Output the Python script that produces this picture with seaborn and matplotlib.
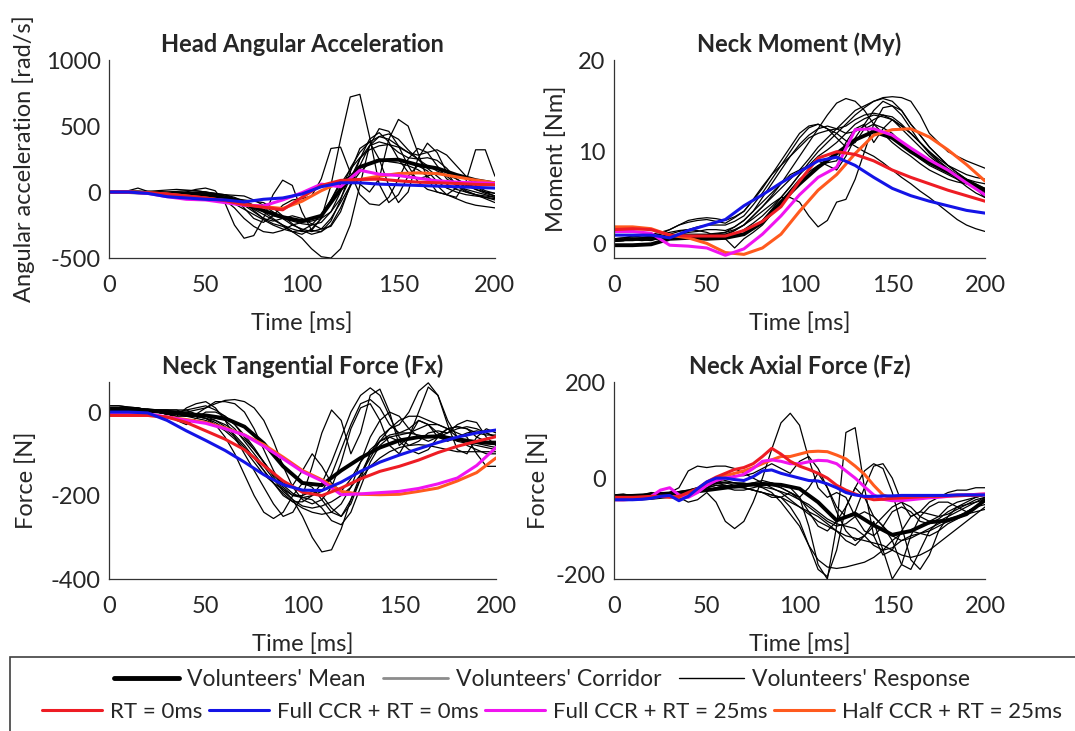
import numpy as np
import matplotlib
matplotlib.use("Agg")
import matplotlib.pyplot as plt
import seaborn as sns
from matplotlib.lines import Line2D
from matplotlib.patches import Rectangle

# time grids [ms]
T5 = np.arange(0, 201, 5)
T10 = np.arange(0, 201, 10)

# ---------------- Head angular acceleration [rad/s^2] ----------------
acc_mean = [0, 0, -5, -10, -15, -25, -50, -90, -140, -190, -220, -180, 20, 190, 240, 245, 205, 180, 130, 90, 65]
acc_rt0 = [0, 0, -5, -15, -30, -45, -65, -95, -115, -135, -40, 50, 88, 95, 98, 85, 75, 70, 65, 58, 55]
acc_full0 = [0, 0, -10, -35, -45, -55, -60, -75, -55, -45, -15, 40, 70, 70, 60, 55, 50, 45, 40, 35, 30]
acc_full25 = [0, 0, -10, -35, -55, -60, -80, -100, -105, -60, -5, 60, 40, 165, 135, 125, 105, 85, 75, 70, 65]
acc_half25 = [0, 0, -5, -15, -30, -45, -65, -95, -110, -125, -70, 10, 75, 95, 120, 140, 145, 140, 115, 90, 70]
acc_vol = [
    [0, 5, 10, 30, 5, 0, -5, -10, -10, -5, 0, -10, -30, -60, -90, -130, -170, -210, -250, -280, -300, -290, -200, 50, 400, 720, 740, 420, 60, -80, -20, 120, 200, 160, 80, 30, 0, -20, -30, -40, -50],
    [0, 0, -5, 0, 0, -5, -10, -15, -20, -20, -15, -20, -30, -50, -80, -140, -200, -240, -260, -300, -320, -280, -200, -60, 80, 120, 60, 0, 100, 400, 550, 500, 300, 100, 0, -20, 30, 60, 40, 0, -30],
    [0, 0, 0, -5, -5, 0, 0, 5, 10, 10, 0, -10, -20, -50, -120, -200, -230, -180, -100, -60, -50, -30, 100, 330, 340, 150, -20, -90, -100, -40, 100, 250, 330, 300, 200, 100, 50, 20, 0, -20, -40],
    [0, 0, 0, 0, -5, -10, -5, 0, 0, -5, -10, -15, -20, -25, -30, -60, -100, -150, -200, -250, -280, -300, -280, -200, -80, 50, 150, 220, 250, 230, 220, 200, 170, 120, 50, -20, -40, 80, 320, 320, 120],
    [0, 0, 0, 0, 0, -5, -10, -20, 0, 20, 30, 10, -80, -250, -350, -330, -200, -20, 90, 50, -150, -290, -300, -250, -120, 40, 200, 350, 420, 440, 400, 320, 250, 180, 120, 60, 20, 0, -20, -40, -60],
    [0, 0, 5, 0, -5, -5, -10, -10, -5, 0, -10, -15, -20, -40, -70, -100, -150, -200, -250, -300, -350, -430, -490, -500, -430, -250, 50, 350, 480, 460, 350, 200, 80, 20, 0, -20, -50, -80, -100, -110, -120],
    [0, 0, 0, 5, 0, -5, -10, -10, -15, -20, -25, -30, -40, -50, -60, -70, -80, -120, -180, -240, -290, -320, -300, -220, -60, 150, 330, 380, 250, 50, -80, 0, 250, 370, 300, 150, 50, 0, -20, -30, -40],
    [0, 0, 0, -5, -5, -10, -15, -20, -20, -25, -30, -40, -60, -90, -130, -170, -210, -250, -280, -300, -290, -250, -170, -60, 60, 170, 260, 320, 350, 360, 340, 300, 250, 200, 160, 130, 100, 60, 20, -10, -30],
    [0, 0, 0, 0, 5, 10, 15, 20, 15, 10, 0, -20, -60, -120, -200, -260, -300, -310, -290, -250, -230, -220, -200, -150, -50, 100, 250, 350, 380, 360, 300, 260, 250, 260, 240, 180, 100, 50, 20, 0, -10],
    [0, 0, 0, -5, -5, -10, -10, -15, -20, -25, -30, -35, -40, -50, -70, -100, -140, -180, -200, -220, -240, -250, -230, -150, 0, 180, 300, 380, 420, 400, 350, 300, 280, 300, 320, 280, 200, 120, 50, 10, -10],
    [0, 0, 0, 0, 0, -5, -5, -10, -10, -15, -20, -30, -40, -60, -100, -150, -200, -220, -200, -180, -200, -240, -280, -260, -150, 50, 250, 400, 450, 380, 250, 150, 100, 120, 150, 120, 60, 10, -20, -50, -80],
]

# ---------------- Neck moment My [Nm] ----------------
my_mean = [-0.2, -0.2, -0.1, 0.5, 0.6, 0.5, 0.6, 1.0, 2.3, 4.5, 6.5, 8.3, 9.8, 11.3, 12.2, 11.5, 10.0, 8.8, 7.8, 6.8, 5.8]
my_rt0 = [1.5, 1.6, 1.5, 0.9, 0.8, 0.8, 0.8, 1.4, 2.4, 4.0, 6.8, 9.3, 10.0, 9.7, 9.0, 8.0, 7.2, 6.5, 5.8, 5.2, 4.6]
my_full0 = [0.9, 0.9, 0.9, 0.6, 1.4, 2.0, 2.6, 4.1, 5.3, 6.6, 7.8, 9.0, 9.4, 8.5, 7.2, 6.0, 5.2, 4.6, 4.1, 3.6, 3.3]
my_full25 = [1.3, 1.3, 1.1, -0.2, -0.3, -0.5, -1.3, -0.6, 1.0, 3.0, 5.3, 7.2, 8.3, 12.4, 12.5, 11.8, 10.4, 9.1, 8.0, 6.6, 5.3]
my_half25 = [1.8, 1.8, 1.6, 0.9, 0.6, 0.0, -1.0, -1.2, -0.5, 1.0, 3.5, 5.8, 7.5, 9.8, 11.8, 12.4, 12.5, 11.6, 10.2, 8.6, 6.8]
my_vol = [
    [0.5, 0.6, 0.7, 0.8, 0.8, 1.0, 1.2, 1.4, 1.5, 1.8, 2.0, 2.0, 2.0, 2.4, 3.0, 4.2, 5.5, 7.0, 8.5, 10.0, 11.5, 12.6, 13.0, 12.5, 12.0, 11.2, 10.6, 10.0, 9.5, 8.8, 8.0, 7.2, 6.5, 5.7, 5.0, 4.2, 3.4, 2.6, 2.0, 1.6, 1.3],
    [0.3, 0.3, 0.4, 0.3, 0.4, 0.5, 0.5, 0.6, 0.8, 0.8, 0.9, 1.0, 1.0, 1.4, 2.0, 3.0, 4.0, 5.2, 6.5, 8.0, 9.5, 11.0, 12.5, 14.0, 15.3, 15.8, 15.5, 14.5, 13.0, 12.0, 11.0, 10.2, 9.5, 8.7, 8.0, 7.5, 7.0, 6.7, 6.5, 6.2, 6.0],
    [0.4, 0.4, 0.5, 0.5, 0.6, 0.6, 0.5, 0.5, 0.6, 0.6, 0.5, 0.5, 0.5, 1.0, 1.5, 2.2, 3.0, 4.0, 5.0, 6.2, 7.5, 8.8, 10.0, 11.0, 12.0, 13.0, 14.0, 14.8, 15.5, 15.9, 16.0, 15.9, 15.5, 14.0, 12.0, 11.0, 10.0, 9.5, 9.0, 8.6, 8.2],
    [0.5, 0.5, 0.6, 0.6, 0.7, 0.8, 0.9, 1.0, 1.0, 1.0, 1.0, 1.1, 1.2, 1.5, 2.0, 2.7, 3.5, 4.3, 5.0, 5.0, 4.5, 3.0, 1.8, 2.5, 4.5, 4.8, 7.0, 10.0, 13.0, 14.8, 15.0, 14.5, 13.0, 11.8, 10.5, 9.5, 8.5, 7.7, 7.0, 6.7, 6.5],
    [0.3, 0.4, 0.4, 0.5, 0.5, 0.6, 0.7, 0.8, 0.8, 0.9, 0.9, 0.9, 1.0, 1.0, 1.0, 1.7, 2.5, 3.7, 5.0, 6.2, 7.5, 8.5, 9.5, 10.2, 11.0, 12.0, 13.0, 13.6, 14.0, 13.8, 13.5, 12.5, 11.5, 10.5, 9.5, 8.7, 8.0, 7.4, 6.8, 6.1, 5.5],
    [0.5, 0.6, 0.8, 0.9, 1.0, 1.2, 1.5, 2.0, 2.5, 2.7, 2.8, 2.7, 2.5, 2.9, 3.5, 4.7, 6.0, 7.5, 9.0, 10.5, 12.0, 12.8, 13.0, 12.5, 11.5, 10.5, 11.0, 12.5, 13.0, 12.6, 12.0, 11.0, 10.0, 9.2, 8.5, 8.0, 7.5, 7.0, 6.5, 6.1, 5.8],
    [0.2, 0.3, 0.5, 0.4, 0.3, 0.6, 1.0, 1.3, 1.5, 1.4, 1.2, 0.8, 0.5, -0.5, 0.5, 1.2, 2.0, 3.2, 4.5, 5.8, 7.0, 7.8, 8.5, 8.8, 9.0, 11.0, 12.5, 13.0, 11.0, 12.5, 13.5, 12.8, 12.0, 11.0, 10.0, 9.2, 8.5, 7.7, 7.0, 6.0, 5.0],
    [0.3, 0.3, 0.3, 0.4, 0.4, 0.5, 0.5, 0.6, 0.6, 0.7, 0.7, 0.8, 0.8, 1.4, 2.0, 3.0, 4.0, 5.0, 6.0, 7.0, 8.0, 9.2, 10.5, 11.5, 12.5, 13.5, 14.5, 15.0, 15.5, 15.8, 15.5, 14.5, 13.0, 11.8, 10.5, 9.5, 8.5, 8.0, 7.5, 7.2, 7.0],
    [0.2, 0.3, 0.5, 0.6, 0.8, 1.0, 1.5, 2.0, 2.3, 2.5, 2.6, 2.4, 2.2, 2.8, 3.5, 4.8, 6.2, 7.5, 8.5, 9.5, 10.5, 11.5, 12.0, 12.3, 12.5, 12.8, 13.5, 14.0, 14.2, 14.0, 13.5, 12.8, 12.0, 11.0, 10.0, 9.0, 8.2, 7.5, 7.0, 6.5, 6.0],
    [0.4, 0.4, 0.5, 0.5, 0.6, 0.6, 0.7, 0.7, 0.8, 0.8, 0.9, 1.0, 1.2, 1.8, 2.5, 3.5, 4.5, 5.5, 6.5, 7.5, 8.0, 8.5, 9.0, 8.5, 8.0, 9.5, 11.5, 13.0, 14.5, 15.5, 15.0, 14.0, 12.5, 11.0, 9.8, 8.8, 8.0, 7.3, 6.7, 6.2, 5.8],
    [0.3, 0.4, 0.5, 0.6, 0.6, 0.7, 0.8, 1.0, 1.2, 1.3, 1.5, 1.5, 1.4, 1.8, 2.5, 3.5, 5.0, 6.5, 8.0, 9.5, 10.8, 11.8, 12.5, 12.8, 12.5, 12.0, 12.2, 12.8, 13.5, 14.0, 13.8, 13.0, 12.0, 11.0, 10.0, 9.0, 8.0, 7.0, 6.2, 5.5, 5.0],
]

# ---------------- Neck tangential force Fx [N] ----------------
fx_mean = [5, 5, 3, 0, -5, -8, -15, -35, -75, -130, -170, -175, -140, -110, -85, -68, -60, -58, -65, -72, -75]
fx_rt0 = [-8, -8, -8, -12, -25, -45, -65, -90, -128, -165, -192, -200, -182, -160, -142, -130, -115, -97, -82, -70, -59]
fx_full0 = [0, 0, -2, -20, -45, -68, -92, -120, -150, -174, -187, -188, -168, -142, -120, -103, -88, -73, -60, -50, -43]
fx_full25 = [-2, -2, -4, -12, -20, -27, -40, -55, -82, -112, -143, -165, -198, -196, -193, -190, -183, -172, -158, -128, -85]
fx_half25 = [-8, -8, -8, -12, -18, -25, -38, -55, -78, -108, -140, -162, -190, -197, -198, -197, -190, -182, -165, -145, -110]
fx_vol = [
    [10, 10, 8, 5, 5, 0, -5, -10, -10, -15, -20, -30, -45, -65, -90, -120, -150, -170, -185, -210, -250, -300, -335, -330, -280, -210, -160, -130, -110, -95, -85, -80, -78, -80, -85, -90, -95, -95, -95, -95, -95],
    [15, 15, 12, 10, 5, 0, -5, -10, 10, 20, 25, 10, -20, -60, -100, -140, -180, -220, -250, -240, -200, -130, -50, 5, -20, -100, -50, 40, 55, 0, -80, -60, 0, 60, 40, -30, -90, -100, -60, -40, -50],
    [5, 5, 5, 5, 5, 5, 5, 5, 5, -5, 10, 25, 25, 20, 0, -40, -90, -140, -180, -200, -200, -190, -200, -230, -250, -220, -160, -100, -60, -40, -30, 0, 50, 70, 40, -20, -60, -70, -75, -80, -85],
    [5, 5, 5, 5, 5, 0, 0, 0, 0, 5, 10, 20, 28, 30, 25, 10, -20, -70, -130, -180, -210, -220, -210, -180, -120, -40, 10, 20, -20, -80, -100, -60, -20, -30, -60, -70, -60, -50, -45, -50, -60],
    [0, 0, 0, 0, 0, 0, -5, -5, -10, -10, -15, -30, -60, -100, -150, -200, -240, -255, -240, -200, -170, -180, -210, -240, -250, -210, -150, -100, -70, -60, -70, -90, -100, -90, -60, -40, -35, -40, -60, -70, -70],
    [10, 10, 10, 8, 8, 5, 5, 5, -5, -10, -15, -25, -40, -60, -85, -110, -140, -170, -200, -215, -215, -200, -170, -120, -60, 0, 40, 58, 40, -10, -60, -80, -70, -50, -45, -50, -30, -20, -25, -60, -80],
    [15, 15, 12, 10, 5, 2, 0, -20, -30, -15, 0, 0, -10, -30, -60, -90, -120, -150, -170, -175, -140, -100, -130, -170, -190, -160, -120, -90, -70, -55, -50, -50, -55, -60, -55, -40, -35, -40, -50, -55, -55],
    [0, 0, 0, 0, 0, 0, -5, -5, -5, -10, -10, -15, -20, -40, -70, -100, -130, -160, -190, -210, -225, -230, -225, -215, -200, -180, -150, -110, -70, -40, -20, -10, -10, -20, -30, -40, -50, -60, -100, -130, -130],
    [10, 10, 10, 8, 5, 5, 0, 0, 5, 10, 15, 5, -10, -30, -55, -85, -120, -155, -185, -200, -205, -200, -190, -150, -90, -30, 20, 30, 10, -30, -50, -40, -20, -30, -50, -60, -70, -75, -80, -85, -90],
    [5, 5, 5, 5, 5, 0, -5, -5, -10, -10, -15, -20, -30, -45, -65, -90, -120, -150, -175, -195, -205, -210, -230, -260, -270, -240, -180, -120, -80, -60, -55, -50, -40, -30, -30, -40, -60, -80, -90, -100, -100],
    [10, 10, 10, 10, 5, 5, 5, 0, 0, -5, -10, -20, -35, -55, -80, -110, -140, -170, -195, -215, -230, -240, -245, -240, -220, -180, -120, -60, -20, 0, -10, -40, -60, -70, -60, -50, -40, -35, -40, -50, -60],
]

# ---------------- Neck axial force Fz [N] ----------------
fz_mean = [-38, -37, -35, -32, -30, -25, -20, -15, -12, -14, -22, -50, -88, -74, -98, -118, -110, -92, -88, -75, -46]
fz_rt0 = [-40, -40, -40, -39, -38, -38, -40, -38, -30, -22, -8, 2, 10, 18, 22, 30, 45, 62, 50, 35, 25, 18, 10, 0, -15, -25, -33, -40, -45, -44, -42, -41, -40, -39, -38, -38, -37, -37, -36, -36, -35]
fz_full0 = [-45, -45, -45, -44, -42, -38, -36, -47, -38, -22, -8, 0, 0, -3, -5, 3, 15, 17, 10, 5, 0, -5, -6, -12, -20, -30, -35, -38, -38, -37, -37, -36, -36, -36, -36, -36, -36, -35, -35, -35, -35]
fz_full25 = [-45, -45, -44, -43, -38, -25, -20, -35, -40, -30, -15, -5, 0, 3, 8, 20, 35, 38, 35, 30, 30, 34, 37, 36, 30, 15, 0, -18, -35, -44, -47, -47, -45, -43, -41, -40, -38, -36, -35, -34, -33]
fz_half25 = [-45, -45, -44, -42, -40, -38, -38, -40, -34, -25, -12, -2, 5, 10, 15, 22, 30, 38, 45, 45, 50, 55, 56, 55, 48, 40, 25, 8, -15, -35, -42, -44, -42, -40, -38, -37, -36, -35, -35, -34, -33]
fz_vol = [
    [-40, -38, -40, -38, -40, -35, -30, -40, -50, -45, -30, -50, -90, -105, -90, -50, 0, 60, 115, 135, 110, 40, -20, -40, -30, -40, -80, -110, -120, -100, -70, -60, -70, -90, -95, -85, -70, -60, -55, -50, -45],
    [-35, -35, -35, -35, -35, -30, -30, -35, -30, -25, -15, -10, -15, -20, -20, -25, -30, -40, -40, -30, -40, -100, -180, -210, -100, 95, 105, -20, -120, -160, -150, -110, -80, -70, -75, -80, -75, -65, -55, -45, -40],
    [-45, -45, -44, -45, -44, -42, -40, -42, -40, -30, -20, -15, -20, -25, -25, -20, -15, -10, -15, -20, -40, -70, -100, -110, -90, -60, -20, 15, 30, 20, -30, -100, -170, -190, -160, -110, -80, -60, -50, -40, -35],
    [-40, -40, -38, -40, -40, -35, -30, -20, 15, 25, 22, 25, 25, 20, 10, 0, -10, -20, -30, -45, -60, -75, -90, -100, -110, -130, -140, -120, -90, -150, -210, -180, -120, -80, -60, -50, -50, -60, -70, -60, -45],
    [-40, -40, -40, -38, -38, -35, -30, -28, -25, -20, -15, -12, -10, -10, -10, -15, -20, -30, -50, -75, -100, -140, -170, -185, -188, -185, -180, -175, -165, -150, -130, -115, -110, -115, -120, -110, -95, -85, -75, -70, -65],
    [-40, -40, -40, -40, -38, -36, -34, -32, -30, -25, -10, -5, -10, -15, -20, -25, -30, -35, -40, -60, -90, -140, -190, -205, -150, -60, -20, -40, -80, -100, -130, -180, -190, -150, -110, -90, -80, -70, -60, -50, -40],
    [-35, -33, -37, -35, -30, -32, -30, -28, -25, -20, -10, 0, -5, -10, -15, -10, -5, -10, -20, -30, -45, -60, -75, -90, -100, -95, -80, -70, -80, -100, -120, -130, -125, -115, -105, -95, -85, -80, -75, -60, -40],
    [-40, -40, -38, -38, -36, -34, -32, -30, -28, -25, -20, -10, 0, 5, 5, 10, 20, 30, 20, 10, 35, 45, 20, -20, -60, -80, -70, -20, 25, 30, 0, -50, -80, -70, -50, -40, -30, -25, -25, -20, -20],
    [-35, -35, -36, -35, -34, -33, -32, -30, -28, -25, -20, -15, -15, -18, -20, -25, -30, -35, -40, -50, -60, -70, -80, -95, -110, -120, -125, -130, -135, -140, -150, -160, -165, -160, -150, -135, -120, -105, -90, -75, -60],
    [-40, -40, -40, -38, -36, -35, -33, -30, -28, -22, -15, -10, -8, -10, -12, -15, -18, -22, -28, -35, -45, -55, -70, -85, -95, -100, -105, -120, -140, -150, -145, -130, -120, -115, -110, -100, -90, -80, -70, -60, -55],
    [-38, -38, -40, -40, -38, -36, -35, -33, -30, -28, -25, -20, -18, -15, -12, -10, -12, -15, -20, -30, -40, -20, 10, -20, -70, -110, -130, -120, -100, -80, -60, -50, -60, -80, -90, -80, -60, -50, -45, -40, -35],
]

# colours
C_RT0 = "#ee1c24"
C_FULL0 = "#1414e6"
C_FULL25 = "#f014f0"
C_HALF25 = "#ff5a1e"

sns.set_theme(style="white")
plt.rcParams["font.family"] = ["Lato", "DejaVu Sans"]
plt.rcParams["axes.unicode_minus"] = False

FS = 17


def tgrid(vals):
    return T5 if len(vals) == len(T5) else T10


def draw_panel(ax, title, ylabel, ylim, yticks, label_x, vol, mean, models):
    for v in vol:
        sns.lineplot(x=T5, y=v, ax=ax, color="black", linewidth=0.9)
    sns.lineplot(x=tgrid(mean), y=mean, ax=ax, color="black", linewidth=2.8)
    for vals, col in models:
        sns.lineplot(x=tgrid(vals), y=vals, ax=ax, color=col, linewidth=2.2)
    ax.set_xlim(0, 200)
    ax.set_ylim(*ylim)
    ax.set_xticks([0, 50, 100, 150, 200])
    ax.set_yticks(yticks)
    ax.set_title(title, fontweight="bold", fontsize=FS, pad=6)
    ax.set_xlabel("Time [ms]", fontsize=FS, labelpad=12)
    ax.set_ylabel(ylabel, fontsize=FS)
    ax.yaxis.set_label_coords(label_x, 0.5)
    ax.tick_params(direction="in", length=4, width=0.8, labelsize=FS,
                   colors="#262626")
    ax.tick_params(axis="x", pad=12)
    ax.tick_params(axis="y", pad=6)
    sns.despine(ax=ax)
    for s in ("left", "bottom"):
        ax.spines[s].set_color("#333333")
        ax.spines[s].set_linewidth(0.9)


fig = plt.figure(figsize=(10.75, 7.31), dpi=100)
ax1 = fig.add_axes([0.1014, 0.647, 0.359, 0.2709])
ax2 = fig.add_axes([0.5712, 0.647, 0.3451, 0.2709])
ax3 = fig.add_axes([0.1014, 0.2079, 0.360, 0.2695])
ax4 = fig.add_axes([0.5712, 0.2079, 0.3451, 0.2695])

draw_panel(ax1, "Head Angular Acceleration", "Angular acceleration [rad/s]",
           (-500, 1000), [-500, 0, 500, 1000], -0.192, acc_vol, acc_mean,
           [(acc_half25, C_HALF25), (acc_full25, C_FULL25), (acc_rt0, C_RT0), (acc_full0, C_FULL0)])
draw_panel(ax2, "Neck Moment (My)", "Moment [Nm]",
           (-1.6, 20), [0, 10, 20], -0.127, my_vol, my_mean,
           [(my_half25, C_HALF25), (my_full25, C_FULL25), (my_rt0, C_RT0), (my_full0, C_FULL0)])
draw_panel(ax3, "Neck Tangential Force (Fx)", "Force [N]",
           (-400, 72), [-400, -200, 0], -0.186, fx_vol, fx_mean,
           [(fx_half25, C_HALF25), (fx_full25, C_FULL25), (fx_rt0, C_RT0), (fx_full0, C_FULL0)])
draw_panel(ax4, "Neck Axial Force (Fz)", "Force [N]",
           (-210, 200), [-200, 0, 200], -0.175, fz_vol, fz_mean,
           [(fz_half25, C_HALF25), (fz_full25, C_FULL25), (fz_rt0, C_RT0), (fz_full0, C_FULL0)])

# legend box and two legend rows
fig.add_artist(Rectangle((0.0093, -0.05), 1.1, 0.1512, transform=fig.transFigure,
                         fill=False, edgecolor="#404040", linewidth=1.2))

row1 = [Line2D([], [], color="black", linewidth=3.5),
        Line2D([], [], color="#8c8c8c", linewidth=2),
        Line2D([], [], color="black", linewidth=1)]
labels1 = ["Volunteers' Mean", "Volunteers' Corridor", "Volunteers' Response"]
row2 = [Line2D([], [], color=C_RT0, linewidth=2.2),
        Line2D([], [], color=C_FULL0, linewidth=2.2),
        Line2D([], [], color=C_FULL25, linewidth=2.2),
        Line2D([], [], color=C_HALF25, linewidth=2.2)]
labels2 = ["RT = 0ms", "Full CCR + RT = 0ms", "Full CCR + RT = 25ms", "Half CCR + RT = 25ms"]

fig.legend(row1, labels1, loc="center", bbox_to_anchor=(0.504, 0.071), ncol=3,
           frameon=False, fontsize=16.5, handlelength=2.85, handletextpad=0.35,
           columnspacing=0.75)
fig.legend(row2, labels2, loc="center", bbox_to_anchor=(0.5136, 0.026), ncol=4,
           frameon=False, fontsize=16, handlelength=2.7, handletextpad=0.35,
           columnspacing=0.3)

fig.savefig("out.png", dpi=100)
